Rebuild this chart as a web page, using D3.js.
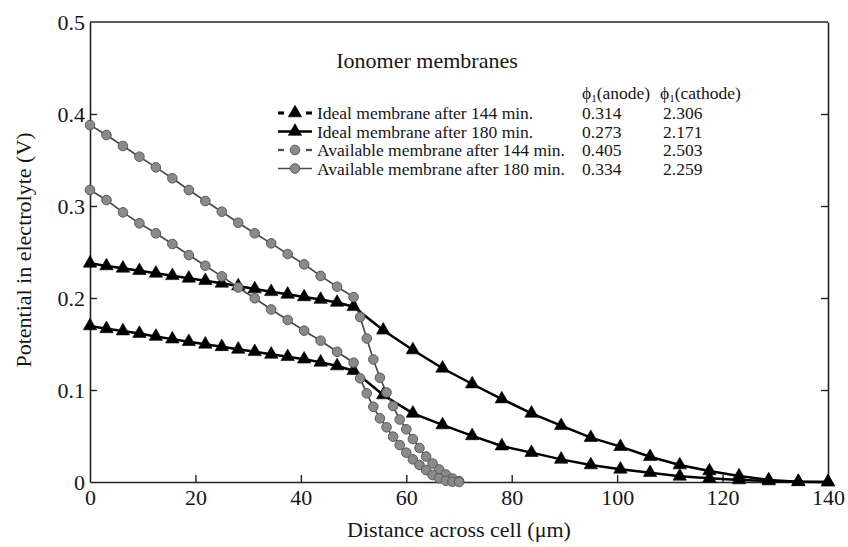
<!DOCTYPE html>
<html>
<head>
<meta charset="utf-8">
<script src="https://cdn.jsdelivr.net/npm/d3@7/dist/d3.min.js"></script>
<style>
  html, body { margin: 0; padding: 0; background: #ffffff; }
  svg { display: block; }
</style>
</head>
<body>
<svg id="chart" width="848" height="547" font-family="Liberation Serif, Times New Roman, serif"></svg>
<script>
// Distance across the cell (µm) at which each series is sampled
const idealX = [0, 3.125, 6.25, 9.375, 12.5, 15.625, 18.75, 21.875, 25, 28.125, 31.25, 34.375, 37.5, 40.625, 43.75, 46.875, 50,
  55.625, 61.25, 66.875, 72.5, 78.125, 83.75, 89.375, 95, 100.625, 106.25, 111.875, 117.5, 123.125, 128.75, 134.375, 140];
const availX = [0, 3.125, 6.25, 9.375, 12.5, 15.625, 18.75, 21.875, 25, 28.125, 31.25, 34.375, 37.5, 40.625, 43.75, 46.875, 50,
  51.25, 52.5, 53.75, 55, 56.25, 57.5, 58.75, 60, 61.25, 62.5, 63.75, 65, 66.25, 67.5, 68.75, 70];

// Potential in electrolyte (V)
const ideal144 = [0.2377, 0.2348, 0.2323, 0.2297, 0.2268, 0.2242, 0.2214, 0.2188, 0.2160, 0.2130, 0.2098, 0.2068, 0.2040, 0.2012, 0.1984, 0.1952, 0.1905,
  0.1650, 0.1435, 0.1236, 0.1065, 0.0902, 0.0746, 0.0612, 0.0482, 0.0384, 0.0275, 0.0185, 0.0120, 0.0065, 0.0022, 0.0003, 0.0];
const ideal180 = [0.1696, 0.1665, 0.1641, 0.1614, 0.1582, 0.1553, 0.1525, 0.1497, 0.1470, 0.1442, 0.1416, 0.1388, 0.1362, 0.1335, 0.1301, 0.1261, 0.1210,
  0.0946, 0.0746, 0.0620, 0.0502, 0.0391, 0.0319, 0.0246, 0.0185, 0.0138, 0.0101, 0.0062, 0.0040, 0.0022, 0.0011, 0.0003, 0.0];
const avail144 = [0.3880, 0.3772, 0.3652, 0.3536, 0.3420, 0.3301, 0.3174, 0.3054, 0.2938, 0.2818, 0.2703, 0.2594, 0.2478, 0.2366, 0.2240, 0.2123, 0.2010,
  0.1793, 0.1560, 0.1332, 0.1133, 0.0973, 0.0826, 0.0679, 0.0573, 0.0467, 0.0370, 0.0277, 0.0201, 0.0136, 0.0082, 0.0038, 0.0010];
const avail180 = [0.3174, 0.3065, 0.2931, 0.2812, 0.2703, 0.2587, 0.2467, 0.2351, 0.2235, 0.2114, 0.1997, 0.1875, 0.1761, 0.1645, 0.1536, 0.1416, 0.1297,
  0.1127, 0.0964, 0.0818, 0.0692, 0.0595, 0.0493, 0.0402, 0.0319, 0.0246, 0.0185, 0.0130, 0.0076, 0.0040, 0.0014, 0.0003, 0.0];

const legendLabels = ["Ideal membrane after 144 min.", "Ideal membrane after 180 min.",
  "Available membrane after 144 min.", "Available membrane after 180 min."];
const anodeValues = ["0.314", "0.273", "0.405", "0.334"];
const cathodeValues = ["2.306", "2.171", "2.503", "2.259"];

const xTicks = [0, 20, 40, 60, 80, 100, 120, 140];
const yTicks = [0, 0.1, 0.2, 0.3, 0.4, 0.5];

const series = [
  { xs: idealX, ys: ideal144, marker: "triangle", dashed: true },
  { xs: idealX, ys: ideal180, marker: "triangle", dashed: false },
  { xs: availX, ys: avail144, marker: "circle", dashed: true },
  { xs: availX, ys: avail180, marker: "circle", dashed: false }
];

const FONT = "Liberation Serif, Times New Roman, serif";
const TEXT = "#161616";
const svg = d3.select("#chart");

const x = d3.scaleLinear().domain([0, 140]).range([90, 828]);
const y = d3.scaleLinear().domain([0, 0.5]).range([482, 22]);

const axisColor = "#222";

// Frame (top edge)
svg.append("line")
  .attr("x1", x(0)).attr("x2", x(140)).attr("y1", y(0.5)).attr("y2", y(0.5))
  .attr("stroke", axisColor).attr("stroke-width", 1.6);

// Left axis with inward ticks
const gy = svg.append("g").attr("transform", `translate(${x(0)},0)`)
  .call(d3.axisLeft(y).tickValues(yTicks).tickSizeInner(-7).tickSizeOuter(0).tickPadding(5)
    .tickFormat(d => d === 0 ? "0" : d3.format(".1f")(d)));
// Right axis, ticks only
const gr = svg.append("g").attr("transform", `translate(${x(140)},0)`)
  .call(d3.axisRight(y).tickValues(yTicks.slice(1, 5)).tickSizeInner(-7).tickSizeOuter(0).tickFormat(""));
// Bottom axis with inward ticks
const gx = svg.append("g").attr("transform", `translate(0,${y(0)})`)
  .call(d3.axisBottom(x).tickValues(xTicks).tickSizeInner(-7).tickSizeOuter(0).tickPadding(7)
    .tickFormat(d3.format("d")));

[gy, gr, gx].forEach(g => {
  g.attr("font-family", FONT);
  g.select(".domain").attr("stroke", axisColor).attr("stroke-width", 1.6);
  g.selectAll(".tick line").attr("stroke", axisColor).attr("stroke-width", 1.4);
  g.selectAll(".tick text").attr("font-family", FONT).attr("font-size", 22).attr("fill", TEXT);
});
gy.selectAll(".tick line").filter(d => d === 0 || d === 0.5).remove();
gx.selectAll(".tick line").filter(d => d === 0 || d === 140).remove();

// Axis titles
svg.append("text")
  .attr("x", x(70)).attr("y", 537)
  .attr("text-anchor", "middle").attr("font-family", FONT).attr("font-size", 22).attr("fill", TEXT)
  .text("Distance across cell (μm)");
svg.append("text")
  .attr("transform", `translate(31,250) rotate(-90)`)
  .attr("text-anchor", "middle").attr("font-family", FONT).attr("font-size", 22).attr("fill", TEXT)
  .text("Potential in electrolyte (V)");

// Curves
const line = d3.line().x(d => x(d[0])).y(d => y(d[1]));
const triSym = d3.symbol().type(d3.symbolTriangle).size(78);
const circleR = 4.8;

function drawMarker(g, kind, cx, cy) {
  if (kind === "triangle") {
    g.append("path").attr("d", triSym()).attr("transform", `translate(${cx},${cy})`)
      .attr("fill", "#000").attr("stroke", "#000").attr("stroke-width", 0.6);
  } else {
    g.append("circle").attr("cx", cx).attr("cy", cy).attr("r", circleR)
      .attr("fill", "#8a8a8a").attr("stroke", "#5a5a5a").attr("stroke-width", 1);
  }
}

const plot = svg.append("g");
series.forEach(s => {
  const pts = s.xs.map((v, i) => [v, s.ys[i]]);
  const isTri = s.marker === "triangle";
  plot.append("path").datum(pts).attr("d", line)
    .attr("fill", "none")
    .attr("stroke", isTri ? "#000" : "#4a4a4a")
    .attr("stroke-width", isTri ? 2.5 : 1.7);
});
series.forEach(s => {
  const g = plot.append("g");
  s.xs.forEach((v, i) => drawMarker(g, s.marker, x(v), y(s.ys[i])));
});

// Legend
const lg = svg.append("g").attr("font-family", FONT).attr("fill", TEXT);
lg.append("text").attr("x", 427).attr("y", 68).attr("text-anchor", "middle")
  .attr("font-size", 22).text("Ionomer membranes");

const rowY = [119, 137.5, 156, 174.5];
const colA = 582, colC = 660;

function phiHeader(xp, label) {
  const t = lg.append("text").attr("x", xp).attr("y", 99).attr("font-size", 17.5);
  t.append("tspan").text("ϕ");
  t.append("tspan").attr("font-size", 11).attr("dy", 3).text("1");
  t.append("tspan").attr("dy", -3).text(label);
}
phiHeader(colA, "(anode)");
phiHeader(colC, "(cathode)");

series.forEach((s, i) => {
  const cy = rowY[i] - 6;
  const isTri = s.marker === "triangle";
  const stroke = isTri ? "#000" : "#4a4a4a";
  const sw = isTri ? 2.5 : 1.7;
  if (s.dashed) {
    lg.append("line").attr("x1", 278).attr("x2", 284).attr("y1", cy).attr("y2", cy)
      .attr("stroke", stroke).attr("stroke-width", sw + 0.6);
    lg.append("line").attr("x1", 306).attr("x2", 312).attr("y1", cy).attr("y2", cy)
      .attr("stroke", stroke).attr("stroke-width", sw + 0.6);
  } else {
    lg.append("line").attr("x1", 278).attr("x2", 312).attr("y1", cy).attr("y2", cy)
      .attr("stroke", stroke).attr("stroke-width", sw);
  }
  drawMarker(lg, s.marker, 295, cy);
  lg.append("text").attr("x", 317).attr("y", rowY[i]).attr("font-size", 17.5).text(legendLabels[i]);
  lg.append("text").attr("x", colA).attr("y", rowY[i]).attr("font-size", 17.5).text(anodeValues[i]);
  lg.append("text").attr("x", colC + 3).attr("y", rowY[i]).attr("font-size", 17.5).text(cathodeValues[i]);
});
</script>
</body>
</html>
